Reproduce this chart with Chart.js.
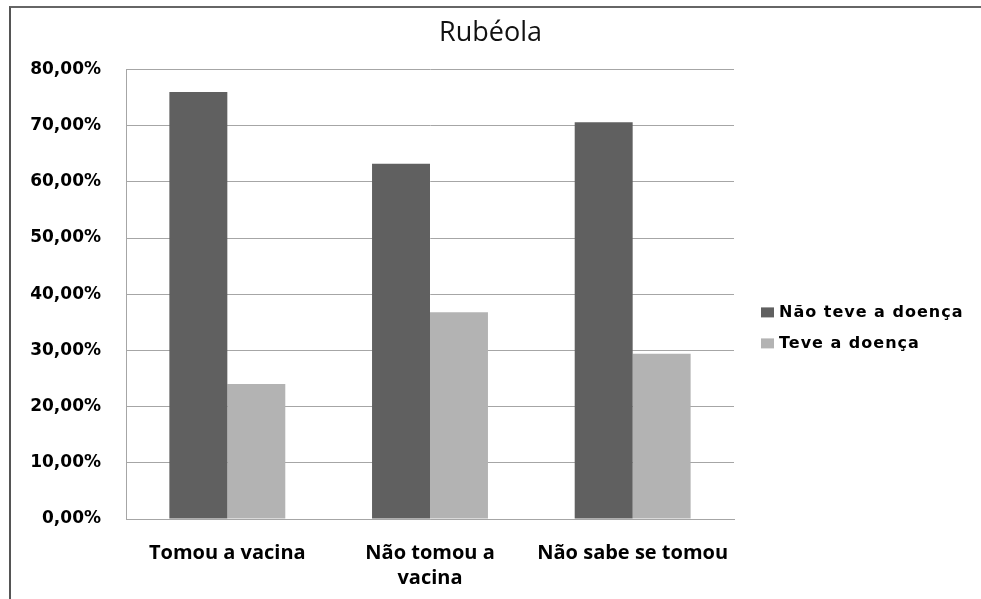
<!DOCTYPE html>
<html>
<head>
<meta charset="utf-8">
<title>Rubéola</title>
<script src="https://cdn.jsdelivr.net/npm/chart.js@4.4.1/dist/chart.umd.min.js"></script>
<style>
  html, body { margin: 0; padding: 0; background: #fff; }
  #wrap { position: relative; width: 981px; height: 599px; overflow: hidden; }
  #moldura {
    position: absolute; left: 9px; top: 6px; right: -10px; bottom: -10px;
    border-left: 2px solid #555; border-top: 2px solid #666;
  }
  #grafico { position: absolute; left: 0; top: 0; }
</style>
</head>
<body>
<div id="wrap">
  <div id="moldura"></div>
  <canvas id="grafico" width="981" height="599"></canvas>
</div>
<script>
// categorias do eixo x (quebra de linha como no gráfico original)
const categorias = ['Tomou a vacina', ['Não tomou a', 'vacina'], 'Não sabe se tomou'];

// percentuais por série
const naoTeveDoenca = [76.0, 63.2, 70.6];
const teveDoenca = [24.0, 36.8, 29.4];

const series = ['Não teve a doença', 'Teve a doença'];
const cores = ['#606060', '#b3b3b3'];

// escala do eixo y
const yMin = 0;
const yMax = 80;
const yPasso = 10;

const formatoPct = (v) => v.toFixed(2).replace('.', ',') + '%';

// legenda desenhada à direita da área do gráfico
const legendaLateral = {
  id: 'legendaLateral',
  afterDraw(chart) {
    const { ctx, chartArea } = chart;
    ctx.save();
    ctx.font = 'bold 16px "DejaVu Sans"';
    ctx.letterSpacing = '1px';
    ctx.textBaseline = 'middle';
    chart.data.datasets.forEach((ds, i) => {
      const y = chartArea.top + 243 + i * 31;
      ctx.fillStyle = ds.backgroundColor;
      ctx.fillRect(chartArea.right + 27, y - 5, 13, 10);
      ctx.fillStyle = '#000';
      ctx.fillText(ds.label, chartArea.right + 45, y);
    });
    ctx.restore();
  }
};

new Chart(document.getElementById('grafico').getContext('2d'), {
  type: 'bar',
  data: {
    labels: categorias,
    datasets: [
      { label: series[0], data: naoTeveDoenca, backgroundColor: cores[0] },
      { label: series[1], data: teveDoenca, backgroundColor: cores[1] },
    ],
  },
  options: {
    responsive: false,
    animation: false,
    categoryPercentage: 0.572,
    barPercentage: 1,
    layout: { padding: 0 },
    plugins: {
      legend: { display: false },
      tooltip: { enabled: false },
      title: {
        display: true,
        text: 'Rubéola',
        color: '#111',
        font: { family: '"Open Sans"', size: 27, weight: '500' },
        padding: { top: 17, bottom: 20 },
      },
    },
    scales: {
      x: {
        grid: { display: false },
        border: { display: true, color: '#a6a6a6' },
        ticks: {
          color: '#000',
          padding: 14,
          maxRotation: 0,
          font: { family: '"Open Sans"', size: 20, weight: 'bold', lineHeight: 1.25 },
        },
        afterFit: (s) => { s.height = 80; },
      },
      y: {
        min: yMin,
        max: yMax,
        ticks: {
          stepSize: yPasso,
          color: '#000',
          padding: 25,
          font: { family: '"DejaVu Sans"', size: 17, weight: 'bold' },
          callback: (v) => formatoPct(v),
        },
        grid: { color: '#a6a6a6', drawTicks: false },
        border: { display: true, color: '#a6a6a6' },
        afterFit: (s) => { s.width = 126; },
      },
      // espaço reservado para a legenda
      margem: {
        type: 'linear',
        position: 'right',
        display: true,
        ticks: { display: false },
        grid: { display: false },
        border: { display: false },
        afterFit: (s) => { s.width = 247; },
      },
    },
  },
  plugins: [legendaLateral],
});
</script>
</body>
</html>
